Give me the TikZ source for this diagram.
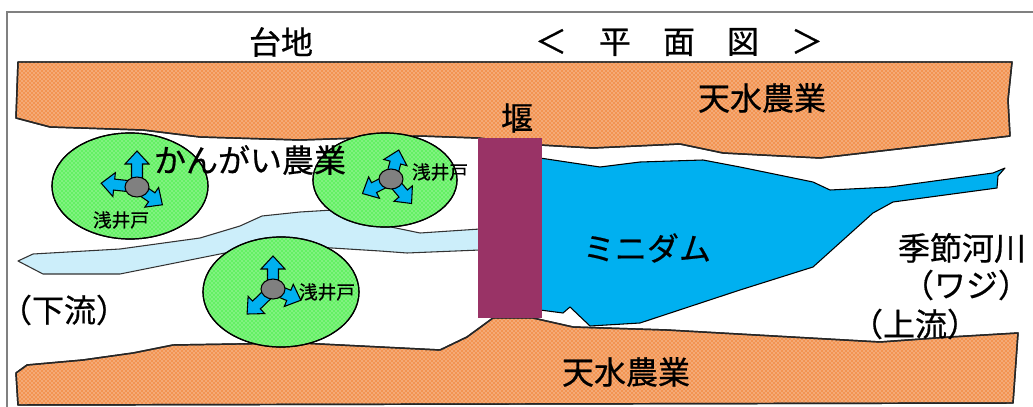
\documentclass[tikz,border=0pt]{standalone}
\usepackage{fontspec}
\newfontfamily\jpfont[FakeBold=0.6]{Noto Sans CJK JP}
\usetikzlibrary{patterns}
\definecolor{soil}{RGB}{242,148,82}
\definecolor{field}{RGB}{100,240,100}
\definecolor{wadi}{RGB}{204,238,250}
\definecolor{pond}{RGB}{0,176,240}
\definecolor{weirc}{RGB}{153,51,102}
\definecolor{framec}{RGB}{128,128,128}
\tikzset{
  band/.style={fill=soil,draw=black!85,line width=1.1pt,line join=round},
  bandhatch/.style={pattern=crosshatch dots,pattern color=white!90!soil},
  farm/.style={fill=field,draw=black,line width=0.9pt},
  farmhatch/.style={pattern=crosshatch dots,pattern color=white!80!field},
  flowout/.style={fill=pond,draw=black,line width=0.8pt,line join=miter},
  pump/.style={fill=black!50,draw=black,line width=0.8pt},
  bigtxt/.style={font=\jpfont\fontsize{24}{28}\selectfont,inner sep=0pt},
  smalltxt/.style={font=\jpfont\fontsize{14}{16}\selectfont,inner sep=0pt}
}
% block arrow: centre x, centre y, direction (deg), length
\newcommand\wellarrow[4]{%
  \begin{scope}[shift={(#1,#2)},rotate=#3]
    \draw[flowout] (0,-5.5) -- (#4-13,-5.5) -- (#4-13,-12) -- (#4,0)
      -- (#4-13,12) -- (#4-13,5.5) -- (0,5.5) -- cycle;
  \end{scope}}
\begin{document}
\begin{tikzpicture}[x=0.75pt,y=-0.75pt]
\useasboundingbox (0,0) rectangle (1033,407);

% frame
\draw[framec,line width=1.3pt] (1033,12) -- (7,12) -- (7,407);

% upper plateau band
\def\upperband{(18,62) -- (1012,62) -- (1008,100) -- (1010,136) -- (820,158)
  -- (723,153) -- (680,144) -- (593,148) -- (540,145) -- (478,138)
  -- (420,136) -- (300,140) -- (200,137) -- (143,130) -- (50,127)
  -- (16,118) -- cycle}
\fill[band] \upperband;
\fill[bandhatch] \upperband;
\draw[band,fill=none] \upperband;

% lower plateau band
\def\lowerband{(16,373) -- (27,365) -- (83,360) -- (133,353) -- (173,345)
  -- (300,343) -- (440,350) -- (467,337) -- (493,318) -- (533,318)
  -- (573,327) -- (667,330) -- (880,342) -- (950,337) -- (1018,333)
  -- (1013,403) -- (18,405) -- cycle}
\fill[band] \lowerband;
\fill[bandhatch] \lowerband;
\draw[band,fill=none] \lowerband;

% downstream channel
\draw[fill=wadi,draw=black!80,line width=0.8pt,line join=round]
  (18,261) -- (33,254) -- (120,249) -- (200,238) -- (240,226) -- (262,216)
  -- (300,212) -- (333,210) -- (367,222) -- (420,233) -- (480,229)
  -- (480,250) -- (407,253) -- (380,251) -- (300,246) -- (255,247)
  -- (200,258) -- (120,274) -- (43,274) -- cycle;

% mini dam reservoir
\draw[fill=pond,draw=black,line width=0.8pt,line join=round]
  (520,158) -- (540,158) -- (600,167) -- (640,162) -- (703,160) -- (740,167)
  -- (813,182) -- (830,190) -- (890,187) -- (993,173) -- (1005,168)
  -- (998,176) -- (997,188) -- (893,202) -- (873,213) -- (813,267)
  -- (740,290) -- (640,323) -- (590,326) -- (570,307) -- (563,313)
  -- (540,310) -- (520,310) -- cycle;

% irrigated fields
\foreach \cx/\cy/\rx/\ry in {130/186/78/53, 385/180/72/47, 281/292/78/55}{
  \fill[farm] (\cx,\cy) ellipse[x radius=\rx,y radius=\ry];
  \fill[farmhatch] (\cx,\cy) ellipse[x radius=\rx,y radius=\ry];
  \draw[farm,fill=none] (\cx,\cy) ellipse[x radius=\rx,y radius=\ry];
}

% shallow wells with outflow arrows
\wellarrow{137}{187}{90}{36}
\wellarrow{137}{187}{174}{36}
\wellarrow{137}{187}{-35}{31}
\draw[pump] (137,187) ellipse[x radius=12,y radius=10];

\wellarrow{391}{179}{75}{30}
\wellarrow{391}{179}{207}{32}
\wellarrow{391}{179}{-50}{32}
\draw[pump] (391,179) ellipse[x radius=12,y radius=10];

\wellarrow{273}{289}{90}{33}
\wellarrow{273}{289}{224}{36}
\wellarrow{273}{289}{-22}{30}
\draw[pump] (273,289) ellipse[x radius=12,y radius=10];

% weir
\fill[weirc] (478,138) rectangle (542,318);

% labels
\node[bigtxt] (plateau) at (281,42) {台地};
\node[bigtxt] (title) at (679,42) {＜　平　面　図　＞};
\node[bigtxt] (rainfedtop) at (762,98) {天水農業};
\node[bigtxt] (rainfedbot) at (626,372) {天水農業};
\node[bigtxt] (weirlbl) at (517,118) {堰};
\node[bigtxt] (irrig) at (250,160) {かんがい農業};
\node[smalltxt] (wellA) at (121,220) {浅井戸};
\node[smalltxt] (wellB) at (440,172) {浅井戸};
\node[smalltxt] (wellC) at (327,292) {浅井戸};
\node[bigtxt] (dam) at (647,248) {ミニダム};
\node[bigtxt] (river) at (962,248) {季節河川};
\node[bigtxt] (wadi) at (966,285) {（ワジ）};
\node[bigtxt] (up) at (915,324) {（上流）};
\node[bigtxt] (down) at (64,310) {（下流）};
\end{tikzpicture}
\end{document}
